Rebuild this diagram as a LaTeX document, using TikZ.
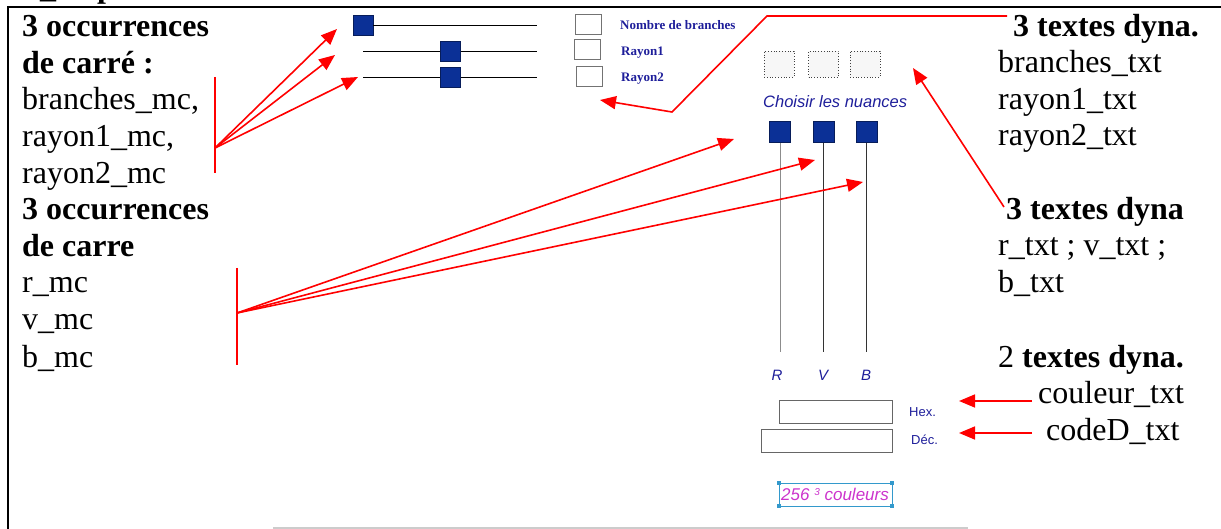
\documentclass[tikz,border=0pt]{standalone}
\usepackage{fontspec}
\setmainfont{Liberation Serif}
\setsansfont{Liberation Sans}
\usetikzlibrary{arrows.meta}
\definecolor{navy}{HTML}{0B3096}
\definecolor{lblue}{HTML}{1E1E9A}
\definecolor{mag}{HTML}{CC33CC}
\definecolor{cyanb}{HTML}{3399CC}
\begin{document}
\begin{tikzpicture}[x=1pt,y=-1pt,
  txt/.style={anchor=base west, inner sep=0pt, font=\fontsize{32}{36}\selectfont},
  btxt/.style={anchor=base west, inner sep=0pt, font=\fontsize{32}{36}\selectfont\bfseries},
  redline/.style={draw=red, line width=1.6pt},
  redarrow/.style={redline, -{Triangle[length=16pt,width=13pt]}},
  sq/.style={draw=navy!60!black, fill=navy, minimum size=20pt, inner sep=0pt, line width=0.5pt},
  csq/.style={draw=navy!60!black, fill=navy, minimum size=21pt, inner sep=0pt, line width=0.5pt},
  smallbox/.style={draw=black!55, line width=1pt, inner sep=0pt, minimum width=26pt, minimum height=20pt},
  dbox/.style={draw=black!75, dotted, line width=0.8pt, fill=black!3, inner sep=0pt, minimum width=30pt, minimum height=26pt},
  fieldbox/.style={draw=black!60, line width=1pt, inner sep=0pt, minimum height=23pt},
  lbl/.style={anchor=base west, inner sep=0pt, text=lblue, font=\fontsize{13}{13}\selectfont\bfseries},
  slbl/.style={anchor=base west, inner sep=0pt, text=lblue, font=\sffamily\fontsize{13}{13}\selectfont},
  rvb/.style={anchor=base, inner sep=0pt, text=lblue, font=\sffamily\itshape\fontsize{15}{15}\selectfont},
  handle/.style={fill=cyanb, minimum size=4pt, inner sep=0pt}
]
\useasboundingbox (0,0) rectangle (1221,529);
% frame
\draw[line width=2.5pt] (8,529) -- (8,7) -- (1221,7);
\begin{scope}
\clip (0,0) rectangle (1221,529);
\node[btxt] (cut) at (40,-2) {\_\hspace{41pt}p};
\end{scope}

% left texts
\node[btxt] (l1) at (22,37) {3 occurrences};
\node[btxt] (l2) at (22,73.5) {de carré :};
\node[txt] (l3) at (22,110) {branches\_mc,};
\node[txt] (l4) at (22,147) {rayon1\_mc,};
\node[txt] (l5) at (22,183.5) {rayon2\_mc};
\node[btxt] (l6) at (22,220) {3 occurrences};
\node[btxt] (l7) at (22,257) {de carre};
\node[txt] (l8) at (22,293) {r\_mc};
\node[txt] (l9) at (22,330) {v\_mc};
\node[txt] (l10) at (22,367) {b\_mc};

% right texts
\node[btxt] (r1) at (1013,37) {3 textes dyna.};
\node[txt] (r2) at (998,73) {branches\_txt};
\node[txt] (r3) at (998,110) {rayon1\_txt};
\node[txt] (r4) at (998,146) {rayon2\_txt};
\node[btxt] (r5) at (1006,220) {3 textes dyna};
\node[txt] (r6) at (998,256) {r\_txt ; v\_txt ;};
\node[txt] (r7) at (998,293) {b\_txt};
\node[txt] (r8) at (998,367) {2 \textbf{textes dyna.}};
\node[txt] (r9) at (1038,403) {couleur\_txt};
\node[txt] (r10) at (1046,440) {codeD\_txt};

% sliders
\coordinate (s1e) at (537,25);
\coordinate (s2a) at (363,51); \coordinate (s2e) at (537,51);
\coordinate (s3a) at (363,77); \coordinate (s3e) at (537,77);
\node[sq] (s1) at (363,25) {};
\draw[line width=0.8pt] (s1.east) -- (s1e);
\draw[line width=0.8pt] (s2a) -- (s2e);
\draw[line width=0.8pt] (s3a) -- (s3e);
\node[sq] (s2) at (450,51) {};
\node[sq] (s3) at (450,77) {};

\node[smallbox] (b1) at (588,25) {};
\node[smallbox] (b2) at (587.5,50) {};
\node[smallbox] (b3) at (589,77) {};
\node[lbl] (n1) at (620,29.5) {Nombre de branches};
\node[lbl] (n2) at (621,55.5) {Rayon1};
\node[lbl] (n3) at (621,81.5) {Rayon2};

% dynamic text boxes
\node[dbox] (d1) at (779,64) {};
\node[dbox] (d2) at (823.5,64) {};
\node[dbox] (d3) at (865,64) {};

\node[anchor=base west, inner sep=0pt, text=lblue, font=\sffamily\itshape\fontsize{16.5}{16.5}\selectfont] (choisir) at (763,108) {Choisir les nuances};

% colour sliders
\coordinate (eR) at (780,352);
\coordinate (eV) at (823.5,352);
\coordinate (eB) at (866.5,352);
\draw[black!45, line width=1pt] (780,131.5) -- (eR);
\draw[black!80, line width=0.8pt] (823.5,131.5) -- (eV);
\draw[black!80, line width=0.8pt] (866.5,131.5) -- (eB);
\node[csq] (cR) at (780,131.5) {};
\node[csq] (cV) at (823.5,131.5) {};
\node[csq] (cB) at (866.5,131.5) {};
\node[rvb] (lR) at (777,380) {R};
\node[rvb] (lV) at (823,380) {V};
\node[rvb] (lB) at (866,380) {B};

% fields
\node[fieldbox, minimum width=113pt] (hex) at (835.5,411.5) {};
\node[fieldbox, minimum width=131pt] (dec) at (826.5,440.5) {};
\node[slbl] (hexl) at (909,416) {Hex.};
\node[slbl] (decl) at (911,444) {Déc.};

\node[draw=cyanb, line width=0.8pt, inner sep=0pt, minimum width=113pt, minimum height=23pt] (nb) at (835.5,494.5) {};
\node[anchor=base west, inner sep=0pt, text=mag, font=\sffamily\itshape\fontsize{17}{17}\selectfont] (nbt) at (781,500) {256 \raisebox{5pt}{\fontsize{10}{10}\selectfont 3} couleurs};
\node[handle] (h1) at (nb.north west) {};
\node[handle] (h2) at (nb.north east) {};
\node[handle] (h3) at (nb.south west) {};
\node[handle] (h4) at (nb.south east) {};

\coordinate (g1) at (273,528); \coordinate (g2) at (968,528);
\draw[black!20, line width=1.5pt] (g1) -- (g2);

% red connectors: first fan
\coordinate (k1a) at (215,77); \coordinate (k1b) at (215,173);
\coordinate (f1) at (215,148);
\coordinate (t1) at (337,29); \coordinate (t2) at (335,55); \coordinate (t3) at (358,77);
\draw[redline] (k1a) -- (k1b);
\draw[redarrow] (f1) -- (t1);
\draw[redarrow] (f1) -- (t2);
\draw[redarrow] (f1) -- (t3);

% second fan
\coordinate (k2a) at (237,268); \coordinate (k2b) at (237,365);
\coordinate (f2) at (237,313);
\coordinate (tR) at (734,139); \coordinate (tV) at (815,160); \coordinate (tB) at (863,182);
\draw[redline] (k2a) -- (k2b);
\draw[redarrow] (f2) -- (tR);
\draw[redarrow] (f2) -- (tV);
\draw[redarrow] (f2) -- (tB);

% top bent arrow
\coordinate (p1) at (1007,16); \coordinate (p2) at (767,16); \coordinate (p3) at (672,112);
\coordinate (p4) at (600,100);
\draw[redarrow] (p1) -- (p2) -- (p3) -- (p4);

% arrow to dynamic boxes
\coordinate (q1) at (1004,207); \coordinate (q2) at (913,68);
\draw[redarrow] (q1) -- (q2);

% hex / dec arrows
\coordinate (hx1) at (1032,401); \coordinate (hx2) at (959,401);
\coordinate (dc1) at (1032,433); \coordinate (dc2) at (959,433);
\draw[redarrow] (hx1) -- (hx2);
\draw[redarrow] (dc1) -- (dc2);
\end{tikzpicture}
\end{document}
